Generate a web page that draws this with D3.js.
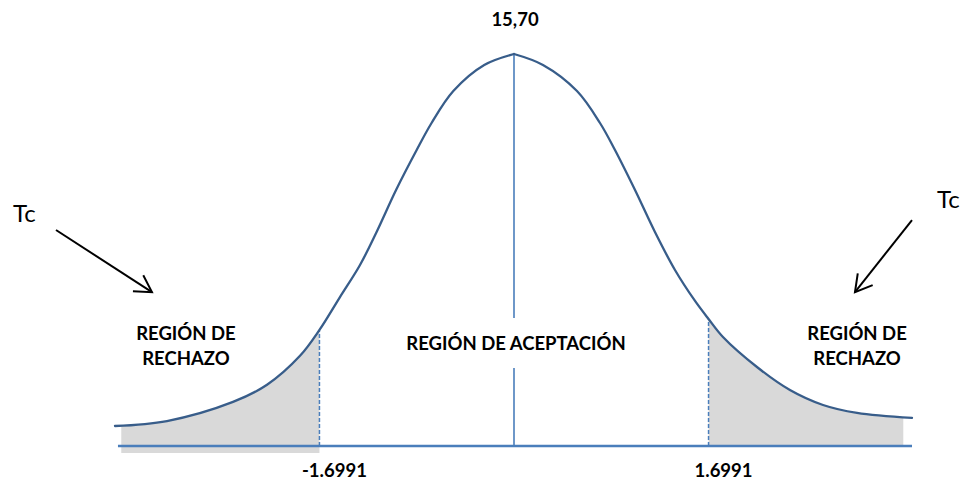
<!DOCTYPE html>
<html>
<head>
<meta charset="utf-8">
<script src="https://cdn.jsdelivr.net/npm/d3@7"></script>
<style>
  body { margin: 0; background: #fff; }
  svg { display: block; }
  text { font-family: Lato, "Open Sans", sans-serif; fill: #000; }
</style>
</head>
<body>
<svg id="chart" width="968" height="489"></svg>
<script>
// values
const meanLabel = '15,70';
const criticalT = [-1.6991, 1.6991];
// left half of the curve: t value and height (density)
const leftT = [-3.485, -3.031, -2.454, -2.157, -1.869, -1.6991, -1.52, -1.345, -1.20, -1.03, -0.85, -0.72, -0.53, -0.26, 0];
const leftD = [0.0204, 0.0255, 0.045, 0.0625, 0.092, 0.1184, 0.152, 0.1847, 0.2184, 0.2612, 0.302, 0.3296, 0.3622, 0.3888, 0.400];
// right half of the curve
const rightT = [0, 0.253, 0.55, 0.751, 0.882, 1.057, 1.231, 1.406, 1.581, 1.6991, 1.825, 2.122, 2.41, 2.699, 2.996, 3.476];
const rightD = [0.400, 0.3888, 0.3622, 0.3296, 0.302, 0.2612, 0.2184, 0.1796, 0.148, 0.1296, 0.1112, 0.0806, 0.0571, 0.0418, 0.0337, 0.0286];
// where the grey fill of the tails stops
const shadeEnds = [-3.43, 3.40];
const rejectLabel = ['REGIÓN DE', 'RECHAZO'];
const acceptLabel = 'REGIÓN DE ACEPTACIÓN';
const tcLabel = 'Tc';
// arrows pointing at the tails: [t, density] from -> to
const arrows = [
   [[-4.0, 0.2204], [-3.162, 0.157]],
   [[3.476, 0.2306], [2.978, 0.157]]
];

const svg = d3.select('#chart');

const cx = 514, unit = 114.5;
const x = d3.scaleLinear().domain([-1, 1]).range([cx - unit, cx + unit]);
const y = d3.scaleLinear().domain([0, 0.4]).range([446, 54]);

const left = leftT.map((t, i) => ({ t: t, d: leftD[i] }));
const right = rightT.map((t, i) => ({ t: t, d: rightD[i] }));

const colors = {
   curve: '#385d8a',
   axis: '#4a7ebb',
   shade: '#d9d9d9'
};
const bold = { size: '18.5px', weight: 'bold' };

const curveType = d3.curveCatmullRom.alpha(0.5);

// grey tails, clipped to the critical values
const defs = svg.append('defs');
defs.append('clipPath').attr('id', 'clip-left')
   .append('rect')
   .attr('x', x(shadeEnds[0])).attr('y', 0)
   .attr('width', x(criticalT[0]) - x(shadeEnds[0])).attr('height', 489);
defs.append('clipPath').attr('id', 'clip-right')
   .append('rect')
   .attr('x', x(criticalT[1])).attr('y', 0)
   .attr('width', x(shadeEnds[1]) - x(criticalT[1])).attr('height', 489);

const area = (floor) => d3.area()
   .x(d => x(d.t))
   .y0(floor)
   .y1(d => y(d.d))
   .curve(curveType);

svg.append('path')
   .datum(left)
   .attr('clip-path', 'url(#clip-left)')
   .attr('d', area(y(0) + 7))
   .style('fill', colors.shade);

svg.append('path')
   .datum(right)
   .attr('clip-path', 'url(#clip-right)')
   .attr('d', area(y(0)))
   .style('fill', colors.shade);

// dashed lines at the critical values
criticalT.forEach((c, i) => {
   let pts = i == 0 ? left : right;
   let p = pts.find(d => d.t == c);
   svg.append('line')
      .attr('x1', x(c)).attr('x2', x(c))
      .attr('y1', y(0)).attr('y2', y(p.d))
      .style('stroke', colors.axis)
      .style('stroke-width', 1.5)
      .style('stroke-dasharray', '4,2');
});

// base line
svg.append('line')
   .attr('x1', x(leftT[0]) + 3).attr('x2', x(rightT[rightT.length - 1]))
   .attr('y1', y(0)).attr('y2', y(0))
   .style('stroke', colors.axis)
   .style('stroke-width', 2.5);

// centre line, broken by the acceptance label
const acceptY = 350;
svg.append('line')
   .attr('x1', x(0)).attr('x2', x(0))
   .attr('y1', y(0.4)).attr('y2', acceptY - 32)
   .style('stroke', colors.axis)
   .style('stroke-width', 1.6);
svg.append('line')
   .attr('x1', x(0)).attr('x2', x(0))
   .attr('y1', acceptY + 18).attr('y2', y(0))
   .style('stroke', colors.axis)
   .style('stroke-width', 1.6);

// the curve, drawn as two halves so the top stays pointed
const line = d3.line()
   .x(d => x(d.t))
   .y(d => y(d.d))
   .curve(curveType);

[left, right].forEach(half => {
   svg.append('path')
      .datum(half)
      .attr('d', line)
      .style('fill', 'none')
      .style('stroke', colors.curve)
      .style('stroke-width', 2.3)
      .style('stroke-linecap', 'round');
});

// arrows
defs.append('marker')
   .attr('id', 'head')
   .attr('viewBox', '-20 -12 24 24')
   .attr('refX', 0).attr('refY', 0)
   .attr('markerWidth', 24).attr('markerHeight', 24)
   .attr('markerUnits', 'userSpaceOnUse')
   .attr('orient', 'auto')
   .append('path')
   .attr('d', 'M-16.5,-9.5L0,0L-16.5,9.5')
   .style('fill', 'none')
   .style('stroke', '#000')
   .style('stroke-width', 2);

arrows.forEach(a => {
   svg.append('line')
      .attr('x1', x(a[0][0])).attr('y1', y(a[0][1]))
      .attr('x2', x(a[1][0])).attr('y2', y(a[1][1]))
      .attr('marker-end', 'url(#head)')
      .style('stroke', '#000')
      .style('stroke-width', 2);
});

// texts
svg.append('text')
   .attr('x', 13).attr('y', 222)
   .style('font-size', '24px')
   .text(tcLabel);
svg.append('text')
   .attr('x', 937).attr('y', 208)
   .style('font-size', '24px')
   .text(tcLabel);

const boldText = (sel) => sel
   .attr('text-anchor', 'middle')
   .style('font-size', bold.size)
   .style('font-weight', bold.weight);

svg.append('text')
   .attr('x', x(0) + 1).attr('y', y(0.4) - 28)
   .call(boldText)
   .text(meanLabel);

svg.append('text')
   .attr('x', x(0) + 2).attr('y', acceptY)
   .call(boldText)
   .text(acceptLabel);

[[-2.865, 340], [2.996, 340]].forEach(p => {
   let t = svg.append('text').call(boldText);
   rejectLabel.forEach((s, i) => {
      t.append('tspan')
         .attr('x', x(p[0]))
         .attr('y', p[1] + i * 25)
         .text(s);
   });
});

svg.selectAll('.crit')
   .data(criticalT).enter()
   .append('text')
   .attr('class', 'crit')
   .attr('x', d => x(d) + 15)
   .attr('y', y(0) + 31)
   .call(boldText)
   .text(d => d.toFixed(4));
</script>
</body>
</html>
